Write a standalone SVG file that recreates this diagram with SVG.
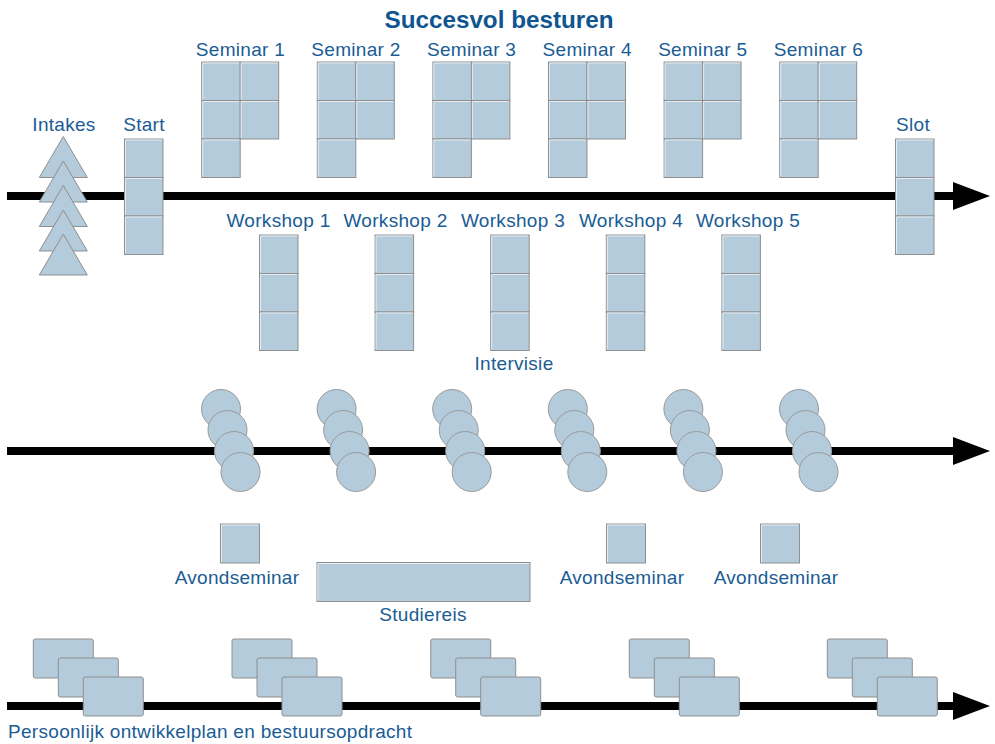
<svg xmlns="http://www.w3.org/2000/svg" xmlns:xlink="http://www.w3.org/1999/xlink" width="995" height="744" viewBox="0 0 995 744">
<style>
.lbl{font-family:"Liberation Sans",Arial,sans-serif;font-size:19px;letter-spacing:0.3px;fill:#1a5c94;text-anchor:middle}
.title{font-family:"Liberation Sans",Arial,sans-serif;font-size:24px;font-weight:bold;fill:#0f5590;text-anchor:middle}
.box{fill:#b4cbdb;stroke:#8f8f8f;stroke-width:1}
.hl{fill:none;stroke:#e4ecf2;stroke-width:1}
.axis{stroke:#000;stroke-width:8;fill:none}
.head{fill:#000}
</style>
<defs>
<g id="sq">
<rect class="box" x="0" y="0" width="38.5" height="38.5"/>
<path class="hl" d="M1,37.5 V1 H37.5"/>
</g>
<g id="col3">
<use xlink:href="#sq" x="0" y="0"/>
<use xlink:href="#sq" x="0" y="38.5"/>
<use xlink:href="#sq" x="0" y="77"/>
</g>
<g id="sem">
<use xlink:href="#col3" x="0" y="0"/>
<use xlink:href="#sq" x="38.5" y="0"/>
<use xlink:href="#sq" x="38.5" y="38.5"/>
</g>
<g id="tri">
<polygon points="24,0 48,41 0,41" fill="#b4cbdb" stroke="#8f8f8f" stroke-width="1"/>
</g>
<g id="circ4">
<circle cx="0" cy="0" r="19.5" fill="#b4cbdb" stroke="#9a9a9a"/>
<circle cx="6.5" cy="21" r="19.5" fill="#b4cbdb" stroke="#9a9a9a"/>
<circle cx="13" cy="42" r="19.5" fill="#b4cbdb" stroke="#9a9a9a"/>
<circle cx="19.5" cy="63" r="19.5" fill="#b4cbdb" stroke="#9a9a9a"/>
</g>
<g id="rect3">
<rect class="box" x="0" y="0" width="60" height="39" rx="2"/>
<rect class="box" x="25" y="19" width="60" height="39" rx="2"/>
<rect class="box" x="50" y="38" width="60" height="39" rx="2"/>
</g>
</defs>

<rect width="995" height="744" fill="#fff"/>

<g id="connectors">
<line class="axis" x1="7" y1="196" x2="956" y2="196"/>
<polygon class="head" points="953,182 990,196 953,210"/>
<line class="axis" x1="7" y1="451" x2="956" y2="451"/>
<polygon class="head" points="953,437 990,451 953,465"/>
<line class="axis" x1="7" y1="706" x2="956" y2="706"/>
<polygon class="head" points="953,692 990,706 953,720"/>
</g>

<text class="title" x="499" y="28" textLength="229" lengthAdjust="spacingAndGlyphs">Succesvol besturen</text>

<g id="intakes">
<use xlink:href="#tri" x="39.3" y="136.5"/>
<use xlink:href="#tri" x="39.3" y="161"/>
<use xlink:href="#tri" x="39.3" y="185.5"/>
<use xlink:href="#tri" x="39.3" y="210"/>
<use xlink:href="#tri" x="39.3" y="234"/>
<text class="lbl" x="64" y="131">Intakes</text>
</g>

<g id="start">
<use xlink:href="#col3" x="124.5" y="139"/>
<text class="lbl" x="144" y="131">Start</text>
</g>

<g id="slot">
<use xlink:href="#col3" x="895.5" y="139"/>
<text class="lbl" x="913" y="131">Slot</text>
</g>

<g id="seminar1"><use xlink:href="#sem" x="201.7" y="62"/><text class="lbl" x="240.5" y="56">Seminar 1</text></g>
<g id="seminar2"><use xlink:href="#sem" x="317.3" y="62"/><text class="lbl" x="356" y="56">Seminar 2</text></g>
<g id="seminar3"><use xlink:href="#sem" x="432.9" y="62"/><text class="lbl" x="471.6" y="56">Seminar 3</text></g>
<g id="seminar4"><use xlink:href="#sem" x="548.5" y="62"/><text class="lbl" x="587.2" y="56">Seminar 4</text></g>
<g id="seminar5"><use xlink:href="#sem" x="664.1" y="62"/><text class="lbl" x="702.8" y="56">Seminar 5</text></g>
<g id="seminar6"><use xlink:href="#sem" x="779.7" y="62"/><text class="lbl" x="818.4" y="56">Seminar 6</text></g>

<g id="workshop1"><use xlink:href="#col3" x="259.5" y="235"/><text class="lbl" x="278.5" y="227">Workshop 1</text></g>
<g id="workshop2"><use xlink:href="#col3" x="375.1" y="235"/><text class="lbl" x="395.5" y="227">Workshop 2</text></g>
<g id="workshop3"><use xlink:href="#col3" x="490.7" y="235"/><text class="lbl" x="513" y="227">Workshop 3</text></g>
<g id="workshop4"><use xlink:href="#col3" x="606.3" y="235"/><text class="lbl" x="631" y="227">Workshop 4</text></g>
<g id="workshop5"><use xlink:href="#col3" x="721.9" y="235"/><text class="lbl" x="748" y="227">Workshop 5</text></g>

<g id="intervisie"><text class="lbl" x="514" y="370">Intervisie</text></g>

<g id="circles1"><use xlink:href="#circ4" x="221" y="409"/></g>
<g id="circles2"><use xlink:href="#circ4" x="336.6" y="409"/></g>
<g id="circles3"><use xlink:href="#circ4" x="452.2" y="409"/></g>
<g id="circles4"><use xlink:href="#circ4" x="567.8" y="409"/></g>
<g id="circles5"><use xlink:href="#circ4" x="683.4" y="409"/></g>
<g id="circles6"><use xlink:href="#circ4" x="799" y="409"/></g>

<g id="avond1">
<rect class="box" x="220.5" y="524" width="39" height="39"/><path class="hl" d="M221.5,562 V525 H258.5"/>
<text class="lbl" x="237" y="584">Avondseminar</text>
</g>
<g id="avond2">
<rect class="box" x="606.5" y="524" width="39" height="39"/><path class="hl" d="M607.5,562 V525 H644.5"/>
<text class="lbl" x="622" y="584">Avondseminar</text>
</g>
<g id="avond3">
<rect class="box" x="760.5" y="524" width="39" height="39"/><path class="hl" d="M761.5,562 V525 H798.5"/>
<text class="lbl" x="776" y="584">Avondseminar</text>
</g>

<g id="studiereis">
<rect class="box" x="317" y="562.5" width="213" height="39"/><path class="hl" d="M318,600.5 V563.5 H529"/>
<text class="lbl" x="423" y="621">Studiereis</text>
</g>

<g id="pop1"><use xlink:href="#rect3" x="33.3" y="639"/></g>
<g id="pop2"><use xlink:href="#rect3" x="232" y="639"/></g>
<g id="pop3"><use xlink:href="#rect3" x="430.7" y="639"/></g>
<g id="pop4"><use xlink:href="#rect3" x="629.3" y="639"/></g>
<g id="pop5"><use xlink:href="#rect3" x="827.3" y="639"/></g>
<text class="lbl" x="8" y="738" style="text-anchor:start">Persoonlijk ontwikkelplan en bestuursopdracht</text>
</svg>
